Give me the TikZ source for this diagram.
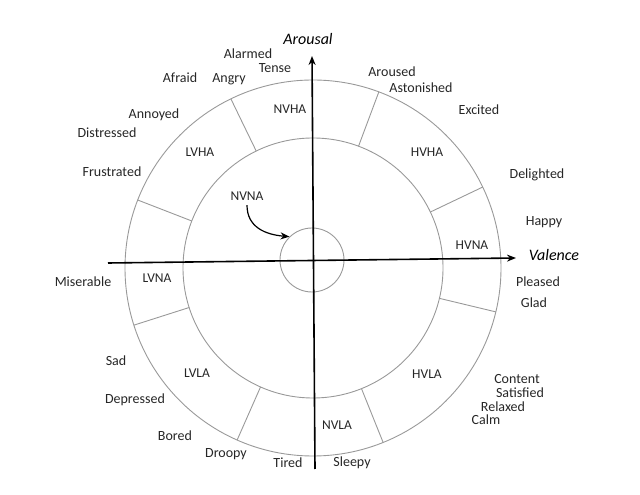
\documentclass[tikz,border=0pt]{standalone}
\usepackage{fontspec}
\setmainfont{Carlito}
\usetikzlibrary{arrows.meta}

\begin{document}
\begin{tikzpicture}[x=1pt,y=1pt,>={Stealth[length=9pt,width=7pt]},
  every node/.style={font=\fontsize{14}{16}\selectfont,text=black!85,
    text height=8pt,text depth=2pt,inner sep=0pt,yshift=-3pt},
  ring/.style={draw=black!40,line width=0.9pt},
  axis/.style={draw=black,line width=1.6pt},
  region/.style={font=\fontsize{13.5}{16}\selectfont},
  axlabel/.style={font=\fontsize{16}{18}\selectfont\itshape,text=black}]
  \useasboundingbox (0,0) rectangle (640,495);
  % rings and sectors
  \coordinate (o) at (313,230);
  \draw[ring] (o) circle[radius=188];
  \draw[ring] (o) circle[radius=130];
  \foreach \a in {25.5,69.5,115.9,158.8,197.7,246.2,291.9,346.5}
    \draw[ring] ([shift={(\a:130)}]o) -- ([shift={(\a:188)}]o);
  \node[ring,circle,minimum size=64pt,inner sep=0pt,text height=,text depth=,yshift=0pt] (core) at (312,238) {};
  % axes
  \coordinate (vbot) at (315,29);
  \coordinate (vtop) at (312,442);
  \coordinate (hleft) at (108,235);
  \coordinate (hright) at (516,240);
  \draw[axis,->] (vbot) -- (vtop);
  \draw[axis,->] (hleft) -- (hright);
  \node[axlabel] (arousal) at (308,456) {Arousal};
  \node[axlabel] (valence) at (554,240) {Valence};
  % regions
  \node[region] (nvha) at (290,387) {NVHA};
  \node[region] (lvha) at (200,344) {LVHA};
  \node[region] (nvna) at (247,300) {NVNA};
  \node[region] (hvha) at (427,344) {HVHA};
  \node[region] (hvna) at (472,251) {HVNA};
  \node[region] (hvla) at (427,122) {HVLA};
  \node[region] (nvla) at (337,71) {NVLA};
  \node[region] (lvla) at (197,123) {LVLA};
  \node[region] (lvna) at (157,218) {LVNA};
  \draw[line width=1.2pt,->] ([yshift=-2pt]nvna.south) .. controls +(0,-22) and +(-24,2) .. (core.134);
  % emotions
  \node (alarmed) at (248,442) {Alarmed};
  \node (tense) at (275,428) {Tense};
  \node (afraid) at (180,418) {Afraid};
  \node (angry) at (229,418) {Angry};
  \node (annoyed) at (154,382) {Annoyed};
  \node (distressed) at (107,363) {Distressed};
  \node (frustrated) at (112,324) {Frustrated};
  \node (aroused) at (392,424) {Aroused};
  \node (astonished) at (421,408) {Astonished};
  \node (excited) at (479,386) {Excited};
  \node (delighted) at (537,322) {Delighted};
  \node (happy) at (544,275) {Happy};
  \node (pleased) at (538,214) {Pleased};
  \node (glad) at (534,193) {Glad};
  \node (content) at (517,117) {Content};
  \node (satisfied) at (520,103) {Satisfied};
  \node (relaxed) at (503,89) {Relaxed};
  \node (calm) at (486,76) {Calm};
  \node (sleepy) at (352,34) {Sleepy};
  \node (tired) at (288,33) {Tired};
  \node (droopy) at (226,43) {Droopy};
  \node (bored) at (175,60) {Bored};
  \node (depressed) at (135,97) {Depressed};
  \node (sad) at (116,135) {Sad};
  \node (miserable) at (83,214) {Miserable};
\end{tikzpicture}
\end{document}
